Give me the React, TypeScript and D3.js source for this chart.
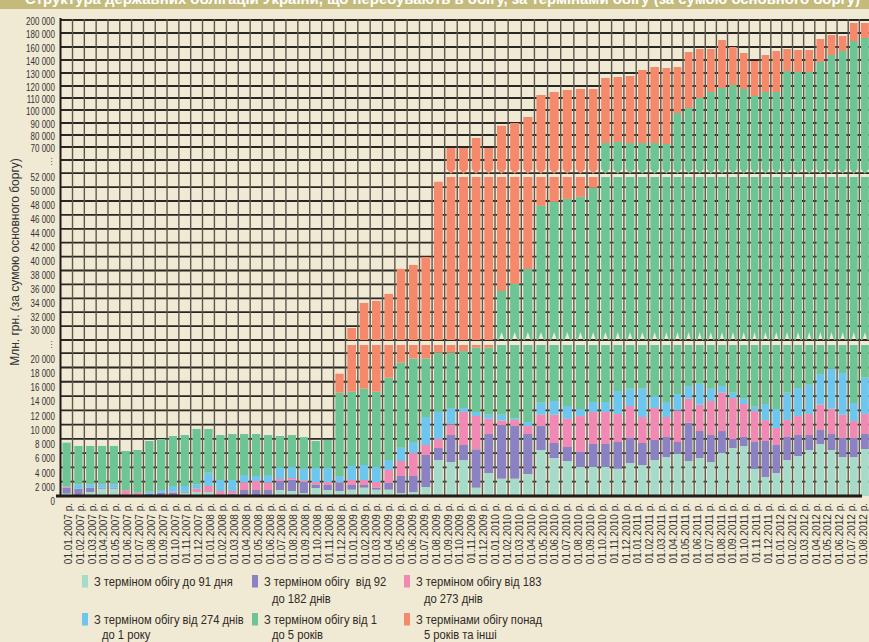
import React from "react";
import * as d3 from "d3";

const dates = [
  "01.01.2007 р.", "01.02.2007 р.", "01.03.2007 р.", "01.04.2007 р.", "01.05.2007 р.", "01.06.2007 р.",
  "01.07.2007 р.", "01.08.2007 р.", "01.09.2007 р.", "01.10.2007 р.", "01.11.2007 р.", "01.12.2007 р.",
  "01.01.2008 р.", "01.02.2008 р.", "01.03.2008 р.", "01.04.2008 р.", "01.05.2008 р.", "01.06.2008 р.",
  "01.07.2008 р.", "01.08.2008 р.", "01.09.2008 р.", "01.10.2008 р.", "01.11.2008 р.", "01.12.2008 р.",
  "01.01.2009 р.", "01.02.2009 р.", "01.03.2009 р.", "01.04.2009 р.", "01.05.2009 р.", "01.06.2009 р.",
  "01.07.2009 р.", "01.08.2009 р.", "01.09.2009 р.", "01.10.2009 р.", "01.11.2009 р.", "01.12.2009 р.",
  "01.01.2010 р.", "01.02.2010 р.", "01.03.2010 р.", "01.04.2010 р.", "01.05.2010 р.", "01.06.2010 р.",
  "01.07.2010 р.", "01.08.2010 р.", "01.09.2010 р.", "01.10.2010 р.", "01.11.2010 р.", "01.12.2010 р.",
  "01.01.2011 р.", "01.02.2011 р.", "01.03.2011 р.", "01.04.2011 р.", "01.05.2011 р.", "01.06.2011 р.",
  "01.07.2011 р.", "01.08.2011 р.", "01.09.2011 р.", "01.10.2011 р.", "01.11.2011 р.", "01.12.2011 р.",
  "01.01.2012 р.", "01.02.2012 р.", "01.03.2012 р.", "01.04.2012 р.", "01.05.2012 р.", "01.06.2012 р.",
  "01.07.2012 р.", "01.08.2012 р.",
];

// млн грн
const upTo91Days = [
  330, 0, 560, 1030, 1030, 140, 0, 0, 0, 0, 470, 560,
  560, 0, 0, 0, 0, 190, 840, 700, 420, 1120, 840, 700,
  890, 1170, 890, 890, 420, 560, 1260, 5040, 4760, 5040, 1170, 3220,
  2430, 2430, 3080, 6440, 5320, 4900, 4060, 4060, 4060, 3830, 4620, 4340,
  5040, 5460, 5880, 4900, 5320, 4760, 6020, 6720, 7000, 3780, 2660, 3220,
  5040, 5600, 6440, 7280, 6440, 5460, 5460, 6580,
];
const days92to182 = [
  840, 1030, 610, 140, 140, 0, 0, 330, 470, 470, 140, 0,
  0, 0, 330, 840, 840, 650, 1260, 1590, 1540, 510, 700, 1170,
  650, 370, 280, 930, 2380, 2240, 4480, 1680, 3780, 2100, 5370, 5460,
  7510, 7370, 5600, 3360, 2100, 1960, 2100, 3220, 3220, 3730, 3500, 3080,
  2800, 2800, 1680, 5370, 3780, 3780, 3080, 1260, 1260, 3780, 5040, 3920,
  3220, 2940, 2100, 1960, 2240, 2660, 2660, 2100,
];
const days183to273 = [
  140, 0, 0, 0, 0, 650, 470, 0, 0, 140, 0, 470,
  840, 700, 370, 1070, 1260, 1070, 280, 230, 230, 330, 420, 90,
  700, 700, 790, 1820, 2100, 3220, 1400, 1260, 1490, 4620, 4670, 2150,
  650, 840, 1120, 1590, 3970, 3970, 5040, 4480, 4480, 3920, 4480, 3640,
  4480, 2800, 4430, 3360, 3690, 4760, 5370, 5740, 4620, 4340, 2940, 2380,
  2380, 2660, 2940, 3550, 3550, 3270, 2380, 2800,
];
const days274to1Year = [
  0, 610, 470, 470, 470, 0, 0, 280, 370, 790, 790, 610,
  1870, 1540, 1540, 1030, 700, 1030, 1540, 1540, 1630, 1960, 1960, 840,
  1960, 2100, 2100, 1400, 1870, 1540, 3920, 3780, 2290, 560, 560, 560,
  790, 230, 560, 1680, 1910, 1770, 980, 1400, 1400, 3220, 2430, 3970,
  1680, 2100, 2290, 1770, 2940, 1730, 930, 750, 750, 610, 2240, 2660,
  3830, 3920, 4110, 4290, 5600, 5830, 2520, 5090,
];
const years1to5 = [
  6160, 5370, 5370, 5370, 5370, 5510, 5970, 7090, 7140, 7000, 7140, 7750,
  6110, 6300, 6440, 5740, 5880, 5600, 4480, 4480, 4430, 3780, 3920, 11670,
  10410, 10690, 10550, 11530, 11900, 11710, 8210, 8310, 7750, 7980, 9010, 9380,
  23670, 25190, 27860, 34230, 34570, 35700, 36410, 36730, 60170, 59470, 58310, 58310,
  59330, 59340, 83410, 86270, 94270, 99970, 102930, 106300, 103870, 99160, 102120, 102820,
  117070, 115650, 115180, 121380, 129870, 136630, 155550, 156290,
];
const over5Years = [
  0, 0, 0, 0, 0, 0, 0, 0, 0, 0, 0, 0,
  0, 0, 0, 0, 0, 0, 0, 0, 0, 0, 0, 2660,
  15120, 18300, 19010, 18060, 19560, 19530, 20680, 30690, 49160, 48930, 56730, 48460,
  52640, 53940, 56390, 65200, 67130, 68360, 68910, 67610, 52820, 52760, 54360, 58980,
  61280, 61350, 36920, 50640, 46920, 41920, 51670, 39230, 33270, 27560, 32690, 38850,
  25390, 24620, 24620, 32970, 29450, 21870, 26810, 22530,
];

const legendLabels = [
  ["З терміном обігу до 91 дня"],
  ["З терміном обігу  від 92", "до 182 днів"],
  ["З терміном обігу від 183", "до 273 днів"],
  ["З терміном обігу від 274 днів", "до 1 року"],
  ["З терміном обігу від 1", "до 5 років"],
  ["З термінами обігу понад", "5 років та інші"],
];
const colors = ["#a7dbc9", "#8a82c2", "#f08ab5", "#6cc6ee", "#6dc494", "#f5896b"];

const ticksLow = [0, 2000, 4000, 6000, 8000, 10000, 12000, 14000, 16000, 18000, 20000];
const ticksMid = [28000, 30000, 32000, 34000, 36000, 38000, 40000, 42000, 44000, 46000, 48000, 50000, 52000];
const ticksTop = [60000, 70000, 80000, 90000, 100000, 110000, 120000, 130000, 140000, 160000, 180000, 200000];
const breakTicks = [28000, 60000];

const yTitle = "Млн. грн. (за сумою основного боргу)";
const chartTitle = "Структура державних облігацій України, що перебувають в обігу, за термінами обігу (за сумою основного боргу)";

const BG = "#f0e9d3";
const SANS = "'Liberation Sans', Arial, sans-serif";

export default function App() {
  const W = 869;
  const H = 642;
  const keys = ["s0", "s1", "s2", "s3", "s4", "s5"];
  const seriesArr = [upTo91Days, days92to182, days183to273, days274to1Year, years1to5, over5Years];
  const rows = dates.map((d, i) => {
    const r: any = { date: d, i };
    keys.forEach((k, j) => (r[k] = seriesArr[j][i]));
    return r;
  });
  const stacked = d3.stack<any>().keys(keys)(rows);

  // irregular band boundaries of the original drawing
  const x = d3
    .scaleLinear()
    .domain([0, 12, 24, 30, 36, 43, 49, 55, 61, 68])
    .range([60.7, 202.5, 345.5, 419.5, 495, 587, 660.8, 727.5, 792.5, 870.5]);
  const xLabel = d3.scalePoint<number>().domain(d3.range(dates.length)).range([68.3, 863.5]);

  const segLow = d3.scaleLinear().domain([0, 21150]).range([496, 345]);
  const segMid = d3.scaleLinear().domain([28000, 51450]).range([340, 177]);
  const segTop = d3
    .scaleLinear()
    .domain([53000, 60000, 70000, 80000, 90000, 100000, 110000, 120000, 130000, 140000, 160000, 180000, 200000])
    .range([169, 160, 147, 135, 123, 110, 98, 86, 73, 60, 47, 33, 20]);
  const segments = [
    { name: "low", lo: 0, hi: 21150, s: segLow },
    { name: "mid", lo: 28000, hi: 51450, s: segMid },
    { name: "top", lo: 53000, hi: 200000, s: segTop },
  ];

  const pieces: { d: string; fill: string; key: string }[] = [];
  stacked.forEach((layer, k) => {
    layer.forEach((pt, i) => {
      const v0 = pt[0];
      const v1 = pt[1];
      const b0 = x(i);
      const b1 = x(i + 1);
      const bw = b1 - b0;
      const x0 = b0 + bw * 0.15;
      const x1 = b1 - bw * 0.15;
      const xc = (x0 + x1) / 2;
      const w = x1 - x0;
      segments.forEach((seg) => {
        const lo = Math.max(v0, seg.lo);
        const hi = Math.min(v1, seg.hi);
        if (hi <= lo) return;
        const yT = seg.s(hi);
        const yB = seg.s(lo);
        let d = `M${x0},${yT}H${x1}V${yB}`;
        if (seg.name === "top" && lo === seg.lo) {
          d += `L${xc},${yB + 5}L${x0},${yB}Z`;
        } else if (seg.name === "mid" && lo === seg.lo && k === 4) {
          d += `L${xc + w * 0.3},${yB}L${xc},${yB - 8}L${xc - w * 0.3},${yB}H${x0}Z`;
        } else {
          d += `H${x0}Z`;
        }
        pieces.push({ d, fill: colors[k], key: `${k}-${i}-${seg.name}` });
      });
    });
  });

  const fmt = (v: number) => (breakTicks.includes(v) ? "⋮" : d3.format(",")(v).replace(/,/g, " "));
  const yTicks = [
    ...ticksLow.map((v) => ({ v, y: segLow(v), off: 6 })),
    ...ticksMid.map((v) => ({ v, y: segMid(v), off: 5 })),
    ...ticksTop.map((v) => ({ v, y: segTop(v), off: 2 })),
  ];

  const legendCols = [82, 252, 404];
  const legendRows = [575, 613];

  return (
    <div style={{ position: "absolute", left: 0, top: 0, width: W, height: H }}>
      <svg width={W} height={H} viewBox={`0 0 ${W} ${H}`} style={{ display: "block" }}>
        <rect x={0} y={0} width={W} height={H} fill={BG} />
        <rect x={0} y={0} width={W} height={9} fill="#c4ba7c" />
        <text
          x={25}
          y={3.5}
          fill="#ffffff"
          fontFamily={SANS}
          fontWeight="bold"
          fontSize={15}
          textLength={835}
          lengthAdjust="spacingAndGlyphs"
        >
          {chartTitle}
        </text>

        {/* horizontal grid */}
        {yTicks
          .filter((t) => t.v !== 0)
          .map((t) => (
            <line key={`h${t.v}`} x1={60.5} x2={W} y1={t.y} y2={t.y} stroke="#2a2622" strokeWidth={1.8} />
          ))}
        {/* vertical grid */}
        {d3.range(1, dates.length).map((k) => (
          <line key={`v${k}`} x1={x(k)} x2={x(k)} y1={19} y2={496} stroke="#5e574e" strokeWidth={1.4} />
        ))}

        {/* bars */}
        {pieces.map((p) => (
          <path key={p.key} d={p.d} fill={p.fill} />
        ))}

        {/* axes */}
        <line x1={60.5} x2={60.5} y1={18} y2={497} stroke="#1e1b18" strokeWidth={2} />
        <line x1={56} x2={862} y1={496} y2={496} stroke="#1e1b18" strokeWidth={3} />

        {/* y tick labels (condensed) */}
        {yTicks.map((t) => (
          <g key={`t${t.v}`} transform={`translate(55,${t.y + t.off}) scale(0.8,1)`}>
            <text
              x={0}
              y={0}
              textAnchor="end"
              dominantBaseline="central"
              fontFamily={SANS}
              fontSize={breakTicks.includes(t.v) ? 9 : 10}
              fill="#333"
            >
              {fmt(t.v)}
            </text>
          </g>
        ))}

        {/* y title */}
        <text
          transform={`translate(15,262) rotate(-90)`}
          textAnchor="middle"
          dominantBaseline="central"
          fontFamily={SANS}
          fontSize={12}
          fill="#333"
        >
          {yTitle}
        </text>

        {/* x labels */}
        {dates.map((d, i) => (
          <text
            key={`x${i}`}
            transform={`translate(${xLabel(i)},503) rotate(-90)`}
            textAnchor="end"
            dominantBaseline="central"
            fontFamily={SANS}
            fontSize={10}
            fill="#333"
          >
            {d}
          </text>
        ))}

        {/* legend */}
        {legendLabels.map((lines, j) => {
          const lx = legendCols[j % 3];
          const ly = legendRows[Math.floor(j / 3)];
          return (
            <g key={`lg${j}`}>
              <rect x={lx} y={ly} width={6} height={12.5} fill={colors[j]} />
              {lines.map((ln, li) => (
                <g
                  key={li}
                  transform={`translate(${lx + (li === 0 ? 12 : 20)},${ly + 6.5 + li * (j < 3 ? 17 : 15.5)}) scale(0.83,1)`}
                >
                  <text
                    x={0}
                    y={0}
                    dominantBaseline="central"
                    fontFamily={SANS}
                    fontSize={13.5}
                    fill="#2e2a26"
                    style={{ whiteSpace: "pre" }}
                  >
                    {ln}
                  </text>
                </g>
              ))}
            </g>
          );
        })}
      </svg>
    </div>
  );
}
